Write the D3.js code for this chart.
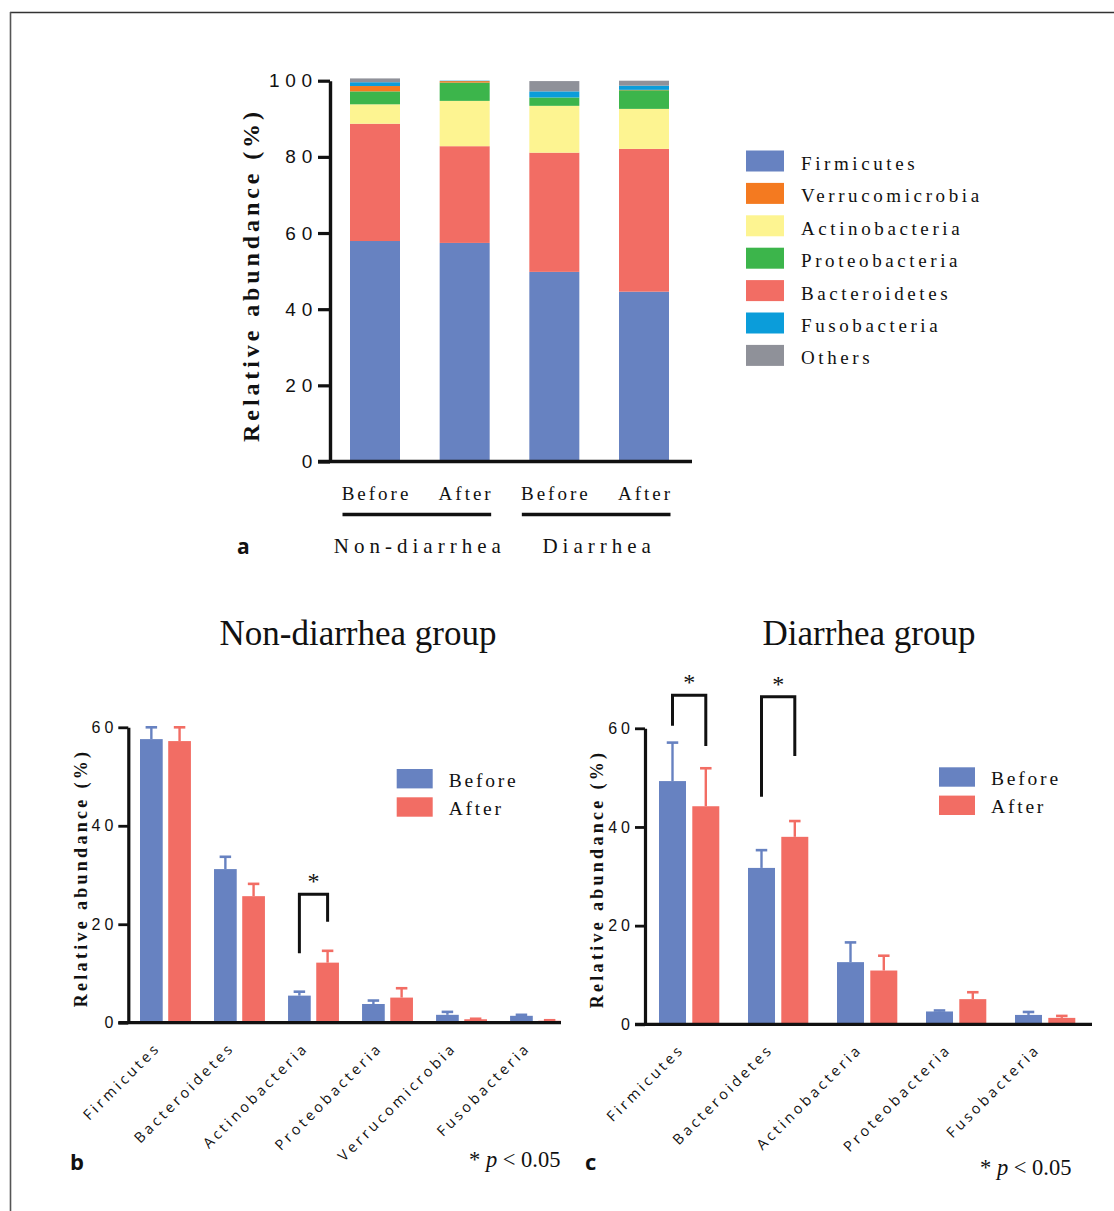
<!DOCTYPE html>
<html>
<head>
<meta charset="utf-8">
<script src="https://cdn.jsdelivr.net/npm/d3@7"></script>
<style>
  html, body { margin: 0; padding: 0; background: #fff; }
  svg { display: block; }
</style>
</head>
<body>
<svg id="chart" width="1114" height="1211"></svg>
<script>
// ---------------- DATA ----------------
// Panel a: stacked relative abundance
const samplesA = ['ND-Before', 'ND-After', 'D-Before', 'D-After'];
const sampleLabelsA = ['Before', 'After', 'Before', 'After'];
const groupLabelsA = ['Non-diarrhea', 'Diarrhea'];
const phylaA = ['Firmicutes', 'Bacteroidetes', 'Actinobacteria', 'Proteobacteria', 'Verrucomicrobia', 'Fusobacteria', 'Others'];
const legendOrderA = ['Firmicutes', 'Verrucomicrobia', 'Actinobacteria', 'Proteobacteria', 'Bacteroidetes', 'Fusobacteria', 'Others'];
const firmicutesA      = [57.9, 57.4, 49.8, 44.6];
const bacteroidetesA   = [30.8, 25.4, 31.3, 37.5];
const actinobacteriaA  = [5.1, 11.9, 12.3, 10.5];
const proteobacteriaA  = [3.4, 4.8, 2.2, 4.9];
const verrucomicrobiaA = [1.4, 0.4, 0.0, 0.1];
const fusobacteriaA    = [1.0, 0.1, 1.6, 1.1];
const othersA          = [1.0, 0.0, 2.7, 1.3];
const ticksA = [0, 20, 40, 60, 80, 100];

// Panel b: Non-diarrhea group
const catsB = ['Firmicutes', 'Bacteroidetes', 'Actinobacteria', 'Proteobacteria', 'Verrucomicrobia', 'Fusobacteria'];
const beforeB    = [57.6, 31.2, 5.5, 3.8, 1.6, 1.4];
const beforeErrB = [2.4, 2.5, 0.8, 0.7, 0.6, 0.2];
const afterB     = [57.2, 25.7, 12.2, 5.1, 0.7, 0.4];
const afterErrB  = [2.8, 2.5, 2.4, 1.9, 0.1, 0.1];
const sigB = [{ cat: 'Actinobacteria', top: 26.1, leftEnd: 14.1, rightEnd: 20.5 }];

// Panel c: Diarrhea group
const catsC = ['Firmicutes', 'Bacteroidetes', 'Actinobacteria', 'Proteobacteria', 'Fusobacteria'];
const beforeC    = [49.3, 31.7, 12.6, 2.6, 1.9];
const beforeErrC = [7.8, 3.6, 4.0, 0.2, 0.6];
const afterC     = [44.2, 38.0, 10.9, 5.1, 1.3];
const afterErrC  = [7.7, 3.2, 3.0, 1.4, 0.4];
const sigC = [
  { cat: 'Firmicutes', top: 66.7, leftEnd: 60.5, rightEnd: 56.4 },
  { cat: 'Bacteroidetes', top: 66.4, leftEnd: 46.1, rightEnd: 54.4 }
];
const ticksBC = [0, 20, 40, 60];
const seriesBC = ['Before', 'After'];

// ---------------- STYLE ----------------
const phylumColor = {
  Firmicutes: '#6782c1', Bacteroidetes: '#f26d64', Actinobacteria: '#fdf491',
  Proteobacteria: '#3cb54b', Verrucomicrobia: '#f47a20', Fusobacteria: '#0b9dda', Others: '#8f9199'
};
const seriesColor = { Before: '#6782c1', After: '#f26d64' };
const SERIF = '"Liberation Serif", "Times New Roman", serif';
const SANS = '"Liberation Sans", Arial, sans-serif';
const LETTER = '"Open Sans", "Liberation Sans", sans-serif';

const svg = d3.select('#chart');

// frame
svg.append('line').attr('x1', 10).attr('x2', 1114).attr('y1', 12.5).attr('y2', 12.5)
  .attr('stroke', '#333').attr('stroke-width', 1.6);
svg.append('line').attr('x1', 10.5).attr('x2', 10.5).attr('y1', 12).attr('y2', 1211)
  .attr('stroke', '#555').attr('stroke-width', 1.6);

// ---------------- PANEL A ----------------
(function () {
  const yAxisX = 330, x0 = 318, xEnd = 692;
  const y = d3.scaleLinear().domain([0, 100]).range([461.5, 80.7]);
  const x = d3.scalePoint().domain(samplesA).range([375, 644]);
  const barW = 50;

  const valuesByPhylum = {
    Firmicutes: firmicutesA, Bacteroidetes: bacteroidetesA, Actinobacteria: actinobacteriaA,
    Proteobacteria: proteobacteriaA, Verrucomicrobia: verrucomicrobiaA, Fusobacteria: fusobacteriaA, Others: othersA
  };
  const rows = samplesA.map((s, i) => {
    const r = { sample: s };
    phylaA.forEach(p => r[p] = valuesByPhylum[p][i]);
    return r;
  });
  const stacked = d3.stack().keys(phylaA)(rows);

  const g = svg.append('g');
  g.selectAll('g.layer').data(stacked).join('g').attr('class', 'layer')
    .attr('fill', d => phylumColor[d.key])
    .selectAll('rect').data(d => d).join('rect')
    .attr('x', d => x(d.data.sample) - barW / 2)
    .attr('width', barW)
    .attr('y', d => y(d[1]))
    .attr('height', d => Math.max(0, y(d[0]) - y(d[1])));

  // y axis
  const ax = g.append('g').attr('transform', `translate(${yAxisX},0)`)
    .call(d3.axisLeft(y).tickValues(ticksA).tickSize(12).tickSizeOuter(0).tickFormat(d3.format('d')));
  ax.select('.domain').attr('stroke', '#111').attr('stroke-width', 3.4);
  ax.selectAll('.tick line').attr('stroke', '#111').attr('stroke-width', 3.2);
  ax.selectAll('.tick text').attr('x', -12).attr('font-family', SANS).attr('font-size', 19)
    .attr('letter-spacing', 5.8).attr('fill', '#111');
  // x axis baseline
  g.append('line').attr('x1', x0).attr('x2', xEnd).attr('y1', y(0)).attr('y2', y(0))
    .attr('stroke', '#111').attr('stroke-width', 3.4);

  // y label
  g.append('text').attr('transform', `translate(259,275) rotate(-90)`)
    .attr('text-anchor', 'middle').attr('font-family', SERIF).attr('font-weight', 'bold')
    .attr('font-size', 24).attr('letter-spacing', 3.9).attr('fill', '#111')
    .text('Relative abundance (%)');

  // sample labels
  g.selectAll('text.samp').data(samplesA).join('text').attr('class', 'samp')
    .attr('x', (d) => x(d) + 1.5).attr('y', 500)
    .attr('text-anchor', 'middle').attr('font-family', SERIF).attr('font-size', 19)
    .attr('letter-spacing', 3.0).attr('fill', '#111')
    .text((d, i) => sampleLabelsA[i]);

  // group underline + group labels
  const groups = [[samplesA[0], samplesA[1]], [samplesA[2], samplesA[3]]];
  groups.forEach((pair, i) => {
    const xa = x(pair[0]) - 32.5, xb = x(pair[1]) + 26.5;
    g.append('line').attr('x1', xa).attr('x2', xb).attr('y1', 514.5).attr('y2', 514.5)
      .attr('stroke', '#111').attr('stroke-width', 3.4);
    g.append('text').attr('x', (xa + xb) / 2 + 3).attr('y', 553)
      .attr('text-anchor', 'middle').attr('font-family', SERIF).attr('font-size', 21)
      .attr('letter-spacing', 5).attr('fill', '#111').text(groupLabelsA[i]);
  });

  // legend
  const lg = g.append('g');
  const rowStep = 32.4;
  legendOrderA.forEach((p, i) => {
    lg.append('rect').attr('x', 746).attr('y', 150.5 + i * rowStep).attr('width', 38).attr('height', 21)
      .attr('fill', phylumColor[p]);
    lg.append('text').attr('x', 801).attr('y', 170 + i * rowStep)
      .attr('font-family', SERIF).attr('font-size', 19).attr('letter-spacing', 3.6)
      .attr('fill', '#111').text(p);
  });

  // panel letter
  g.append('text').attr('x', 237).attr('y', 554).attr('font-family', LETTER)
    .attr('font-weight', 'bold').attr('font-size', 21).attr('fill', '#111').text('a');
})();

// ---------------- PANELS B & C ----------------
function groupedPanel(cfg) {
  const g = svg.append('g');
  const y = d3.scaleLinear().domain([0, 60]).range([cfg.y0, cfg.y60]);
  const x0 = d3.scaleBand().domain(cfg.cats).range([cfg.xFirst, cfg.xLast]).paddingInner(cfg.padIn).paddingOuter(0);
  const x1 = d3.scaleBand().domain(seriesBC).range([0, x0.bandwidth()]).paddingInner(cfg.padSub);
  const data = [];
  cfg.cats.forEach((c, i) => {
    data.push({ cat: c, s: 'Before', v: cfg.before[i], e: cfg.beforeErr[i] });
    data.push({ cat: c, s: 'After', v: cfg.after[i], e: cfg.afterErr[i] });
  });

  // error bars (behind bars)
  const cap = 11.5;
  const eb = g.append('g');
  data.forEach(d => {
    const cx = x0(d.cat) + x1(d.s) + x1.bandwidth() / 2;
    eb.append('line').attr('x1', cx).attr('x2', cx).attr('y1', y(d.v)).attr('y2', y(d.v + d.e))
      .attr('stroke', seriesColor[d.s]).attr('stroke-width', 2.4);
    eb.append('line').attr('x1', cx - cap / 2).attr('x2', cx + cap / 2).attr('y1', y(d.v + d.e)).attr('y2', y(d.v + d.e))
      .attr('stroke', seriesColor[d.s]).attr('stroke-width', 2.6);
  });

  g.append('g').selectAll('rect').data(data).join('rect')
    .attr('x', d => x0(d.cat) + x1(d.s))
    .attr('width', x1.bandwidth())
    .attr('y', d => y(d.v))
    .attr('height', d => y(0) - y(d.v))
    .attr('fill', d => seriesColor[d.s]);

  // y axis
  const ax = g.append('g').attr('transform', `translate(${cfg.yAxisX},0)`)
    .call(d3.axisLeft(y).tickValues(ticksBC).tickSize(10).tickSizeOuter(0).tickFormat(d3.format('d')));
  ax.select('.domain').attr('stroke', '#111').attr('stroke-width', 3.2);
  ax.selectAll('.tick line').attr('stroke', '#111').attr('stroke-width', 2.8);
  ax.selectAll('.tick text').attr('x', -11).attr('font-family', SANS).attr('font-size', 16)
    .attr('letter-spacing', 4).attr('fill', '#111');

  // x axis
  g.append('line').attr('x1', cfg.yAxisX - 10).attr('x2', cfg.xAxisEnd).attr('y1', y(0)).attr('y2', y(0))
    .attr('stroke', '#111').attr('stroke-width', 3.2);
  const xa = g.append('g').attr('transform', `translate(0,${y(0)})`)
    .call(d3.axisBottom(x0).tickSize(0));
  xa.select('.domain').remove();
  xa.selectAll('.tick text')
    .attr('transform', 'translate(-4,26) rotate(-45)')
    .attr('y', 0).attr('dy', 0)
    .attr('text-anchor', 'end').attr('font-family', LETTER).attr('font-size', 14.5)
    .attr('letter-spacing', 3.2).attr('fill', '#111');

  // y label
  g.append('text').attr('transform', `translate(${cfg.yLabelX},${cfg.yLabelY}) rotate(-90)`)
    .attr('text-anchor', 'middle').attr('font-family', SERIF).attr('font-weight', 'bold')
    .attr('font-size', 18).attr('letter-spacing', 3.3).attr('fill', '#111')
    .text('Relative abundance (%)');

  // significance brackets
  cfg.sig.forEach(s => {
    const xl = x0(s.cat) + x1('Before') + x1.bandwidth() / 2;
    const xr = x0(s.cat) + x1('After') + x1.bandwidth() / 2;
    g.append('path')
      .attr('d', `M${xl},${y(s.leftEnd)}V${y(s.top)}H${xr}V${y(s.rightEnd)}`)
      .attr('fill', 'none').attr('stroke', '#111').attr('stroke-width', 3);
    g.append('text').attr('x', (xl + xr) / 2).attr('y', y(s.top) - 5)
      .attr('text-anchor', 'middle').attr('font-family', SERIF).attr('font-size', 24)
      .attr('fill', '#111').text('*');
  });

  // legend
  seriesBC.forEach((s, i) => {
    g.append('rect').attr('x', cfg.legX).attr('y', cfg.legY + i * 28.3).attr('width', 36).attr('height', 19.4)
      .attr('fill', seriesColor[s]);
    g.append('text').attr('x', cfg.legX + 52).attr('y', cfg.legY + 17.6 + i * 28.3)
      .attr('font-family', SERIF).attr('font-size', 19.5).attr('letter-spacing', 2.8)
      .attr('fill', '#111').text(s);
  });

  // title
  g.append('text').attr('x', cfg.titleX).attr('y', 645).attr('text-anchor', 'middle')
    .attr('font-family', SERIF).attr('font-size', 35).attr('fill', '#111').text(cfg.title);

  // p-value note
  const note = g.append('text').attr('x', cfg.noteX).attr('y', cfg.noteY)
    .attr('font-family', SERIF).attr('font-size', 22.5).attr('fill', '#111');
  note.append('tspan').text('* ');
  note.append('tspan').attr('font-style', 'italic').text('p');
  note.append('tspan').text(' < 0.05');

  // panel letter
  g.append('text').attr('x', cfg.letterX).attr('y', 1170).attr('font-family', LETTER)
    .attr('font-weight', 'bold').attr('font-size', 22).attr('fill', '#111').text(cfg.letter);
}

groupedPanel({
  cats: catsB, before: beforeB, beforeErr: beforeErrB, after: afterB, afterErr: afterErrB, sig: sigB,
  y0: 1022.7, y60: 727.3, xFirst: 140, xLast: 561, padIn: 0.312, padSub: 0.195,
  yAxisX: 128.3, xAxisEnd: 561, yLabelX: 86.7, yLabelY: 878,
  legX: 396.7, legY: 769, title: 'Non-diarrhea group', titleX: 358,
  noteX: 469, noteY: 1166.5, letter: 'b', letterX: 70
});

groupedPanel({
  cats: catsC, before: beforeC, beforeErr: beforeErrC, after: afterC, afterErr: afterErrC, sig: sigC,
  y0: 1024.3, y60: 728.3, xFirst: 659, xLast: 1075.3, padIn: 0.3225, padSub: 0.189,
  yAxisX: 645, xAxisEnd: 1092, yLabelX: 603.3, yLabelY: 879,
  legX: 939, legY: 767.3, title: 'Diarrhea group', titleX: 869,
  noteX: 980, noteY: 1175, letter: 'c', letterX: 585
});
</script>
</body>
</html>
